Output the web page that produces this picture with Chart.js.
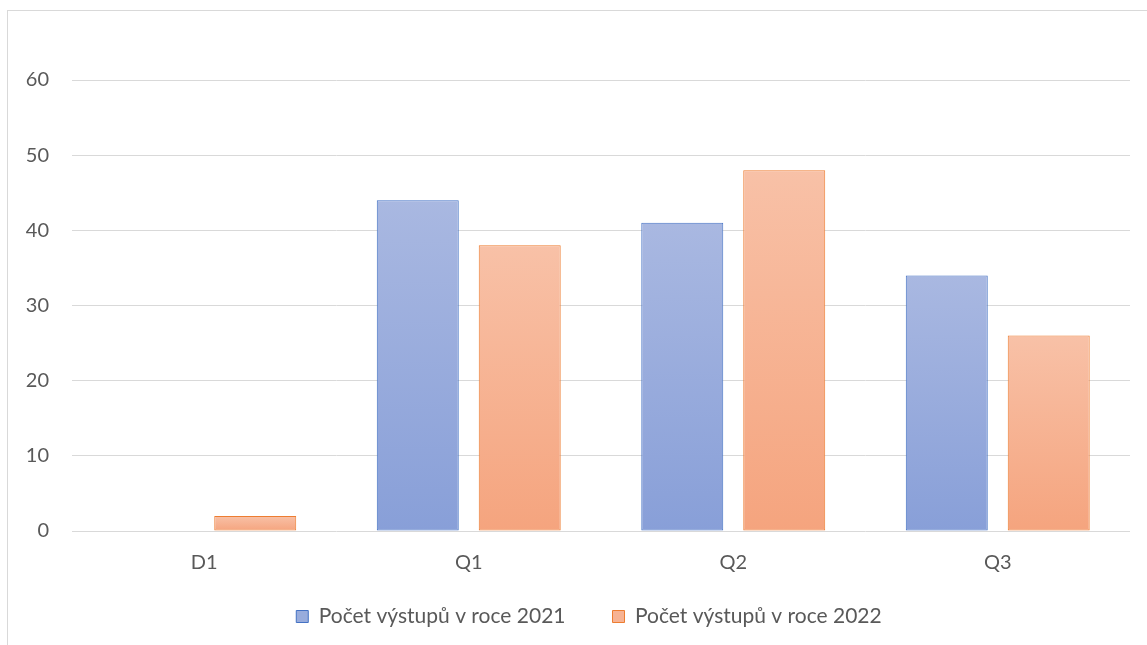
<!DOCTYPE html>
<html>
<head>
<meta charset="utf-8">
<script src="https://cdn.jsdelivr.net/npm/chart.js@4.4.0/dist/chart.umd.min.js"></script>
<style>
  html, body { margin: 0; padding: 0; background: #fff; overflow: hidden; }
  #frame { position: absolute; left: 7px; top: 10px; width: 1200px; height: 700px; border: 1px solid #d9d9d9; }
  #wrap { position: absolute; left: 0; top: 0; width: 1147px; height: 645px; }
</style>
</head>
<body>
<div id="frame"></div>
<div id="wrap"><canvas id="chart" width="1147" height="645"></canvas></div>
<script>
// ----------------------------
// Daten
// ----------------------------
const categories = ['D1', 'Q1', 'Q2', 'Q3'];
const vystupy2021 = [null, 44, 41, 34];
const vystupy2022 = [2, 38, 48, 26];
const seriesLabels = ['Počet výstupů v roce 2021', 'Počet výstupů v roce 2022'];

// ----------------------------
// Farben
// ----------------------------
const blue = { top: '#A9B8E1', bottom: '#889FD8', border: '#4472C4', legend: '#98ACDC' };
const orange = { top: '#F8C1A7', bottom: '#F5A47E', border: '#ED7D31', legend: '#F7B393' };

// Verlauf pro Balken (oben hell, unten dunkler)
function barGradient(c) {
  return (ctx) => {
    const chart = ctx.chart;
    if (!chart.chartArea || ctx.raw == null) return c.bottom;
    const y = chart.scales.y;
    const top = y.getPixelForValue(ctx.raw);
    const base = y.getPixelForValue(0);
    if (!isFinite(top) || !isFinite(base) || top === base) return c.bottom;
    const g = chart.ctx.createLinearGradient(0, top, 0, base);
    g.addColorStop(0, c.top);
    g.addColorStop(1, c.bottom);
    return g;
  };
}

const textColor = '#595959';
const fontFamily = 'Lato, "Open Sans", sans-serif';

// Legende: feste Höhe, Position wie im Original
const legendLayout = {
  id: 'legendLayout',
  beforeLayout(chart) {
    const lg = chart.legend;
    if (lg && !lg._patched) {
      const fit = lg.fit;
      lg.fit = function () { fit.call(this); this.height = 64; };
      lg._patched = true;
    }
  },
  afterLayout(chart) {
    const lg = chart.legend;
    if (!lg) return;
    lg.left = 48;
    lg.top = 559;
    lg.height = 86;
    lg.bottom = lg.top + lg.height;
  }
};

new Chart(document.getElementById('chart'), {
  type: 'bar',
  data: {
    labels: categories,
    datasets: [
      {
        label: seriesLabels[0],
        data: vystupy2021,
        backgroundColor: barGradient(blue),
        borderColor: blue.border,
        borderWidth: 1,
        borderSkipped: false
      },
      {
        label: seriesLabels[1],
        data: vystupy2022,
        backgroundColor: barGradient(orange),
        borderColor: orange.border,
        borderWidth: 1,
        borderSkipped: false
      }
    ]
  },
  options: {
    responsive: false,
    animation: false,
    categoryPercentage: 0.771,
    barPercentage: 0.804,
    layout: { padding: { top: 80, right: 17, left: 0, bottom: 0 } },
    plugins: {
      tooltip: { enabled: false },
      legend: {
        position: 'bottom',
        labels: {
          color: textColor,
          font: { family: fontFamily, size: 21 },
          boxWidth: 12,
          boxHeight: 12,
          padding: 47,
          generateLabels: (chart) => [blue, orange].map((c, i) => ({
            text: seriesLabels[i],
            fillStyle: c.legend,
            strokeStyle: c.border,
            lineWidth: 1,
            fontColor: textColor,
            datasetIndex: i,
            hidden: false
          }))
        }
      }
    },
    scales: {
      x: {
        grid: { display: false },
        border: { display: false },
        ticks: { color: textColor, font: { family: fontFamily, size: 20 }, padding: 12 },
        afterFit: (s) => { s.height = 50; }
      },
      y: {
        min: 0,
        max: 60,
        ticks: { stepSize: 10, color: textColor, font: { family: fontFamily, size: 20 }, padding: 23 },
        grid: { color: '#d9d9d9', lineWidth: 1, drawTicks: false },
        border: { display: false },
        afterFit: (s) => { s.width = 72; }
      }
    }
  },
  plugins: [legendLayout]
});
</script>
</body>
</html>
